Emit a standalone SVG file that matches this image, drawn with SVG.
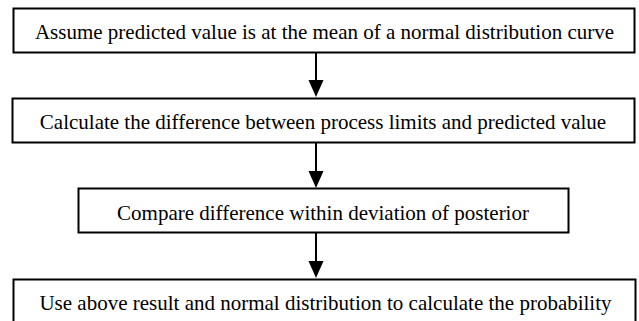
<svg xmlns="http://www.w3.org/2000/svg" width="639" height="321" viewBox="0 0 639 321">
<defs>
<style>
.box{fill:#fff;stroke:#000;stroke-width:2}
.t{font-family:"Liberation Serif","Times New Roman",serif;font-size:21px;fill:#000;text-anchor:middle}
.c{stroke:#000;stroke-width:2;fill:none}
</style>
</defs>
<rect width="639" height="321" fill="#fff"/>
<g id="connectors">
<line class="c" x1="316" y1="53" x2="316" y2="80"/>
<path d="M308.5,80 L323.5,80 L316,97 Z" fill="#000"/>
<line class="c" x1="316" y1="143" x2="316" y2="171"/>
<path d="M308.5,171 L323.5,171 L316,188 Z" fill="#000"/>
<line class="c" x1="316" y1="233" x2="316" y2="261"/>
<path d="M308.5,261 L323.5,261 L316,278 Z" fill="#000"/>
</g>
<g id="n1">
<rect class="box" x="13.5" y="8.5" width="621" height="44"/>
<text class="t" x="324.5" y="39">Assume predicted value is at the mean of a normal distribution curve</text>
</g>
<g id="n2">
<rect class="box" x="12.5" y="98.5" width="622" height="44"/>
<text class="t" x="323" y="129">Calculate the difference between process limits and predicted value</text>
</g>
<g id="n3">
<rect class="box" x="78.5" y="188.5" width="490" height="44"/>
<text class="t" x="323" y="220">Compare difference within deviation of posterior</text>
</g>
<g id="n4">
<rect class="box" x="13.5" y="279.5" width="622" height="46"/>
<text class="t" x="325.5" y="310">Use above result and normal distribution to calculate the probability</text>
</g>
</svg>
